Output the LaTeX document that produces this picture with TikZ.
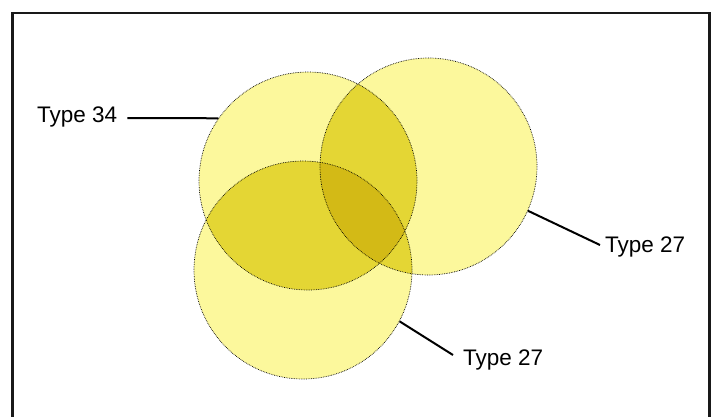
\documentclass[tikz,border=0pt]{standalone}
\usepackage{fontspec}
\setmainfont{Liberation Sans}
\definecolor{ysingle}{RGB}{252,248,156}
\definecolor{ydouble}{RGB}{228,214,52}
\definecolor{ytriple}{RGB}{211,186,22}
\begin{document}
\begin{tikzpicture}[x=1pt,y=-1pt,
  lbl/.style={font=\fontsize{22.5}{25}\selectfont, inner sep=0pt, anchor=base west},
  leader/.style={line width=2pt, black},
  vcirc/.style={circle, draw=black, densely dotted, line width=0.7pt, inner sep=0pt, minimum size=218pt}]
\useasboundingbox (0,0) rectangle (718,416);
\fill[white] (0,0) rectangle (718,416);
\draw[line width=2.2pt, black!90] (12.5,13) rectangle (709.5,440);
% single fills
\fill[ysingle] (308,181) circle[radius=109];
\fill[ysingle] (428.5,166.5) circle[radius=108.5];
\fill[ysingle] (303,270) circle[radius=109];
% double overlaps
\begin{scope}
  \clip (308,181) circle[radius=109];
  \fill[ydouble] (428.5,166.5) circle[radius=108.5];
  \fill[ydouble] (303,270) circle[radius=109];
\end{scope}
\begin{scope}
  \clip (428.5,166.5) circle[radius=108.5];
  \fill[ydouble] (303,270) circle[radius=109];
\end{scope}
% triple overlap
\begin{scope}
  \clip (308,181) circle[radius=109];
  \clip (428.5,166.5) circle[radius=108.5];
  \fill[ytriple] (303,270) circle[radius=109];
\end{scope}
% outlines
\node[vcirc] (cA) at (308,181) {};
\node[vcirc, minimum size=217pt] (cB) at (428.5,166.5) {};
\node[vcirc] (cC) at (303,270) {};
% labels
\node[lbl] (t34) at (37,122) {Type 34};
\node[lbl] (t27a) at (605,252) {Type 27};
\node[lbl] (t27b) at (463,365) {Type 27};
% leaders
\draw[leader] ([xshift=10pt,yshift=4pt]t34.base east) -- (cA.145);
\draw[leader] ([xshift=-5pt,yshift=7pt]t27a.base west) -- (cB.-24.6);
\draw[leader] ([xshift=-10pt,yshift=10pt]t27b.base west) -- (cC.-28.6);
\end{tikzpicture}
\end{document}
